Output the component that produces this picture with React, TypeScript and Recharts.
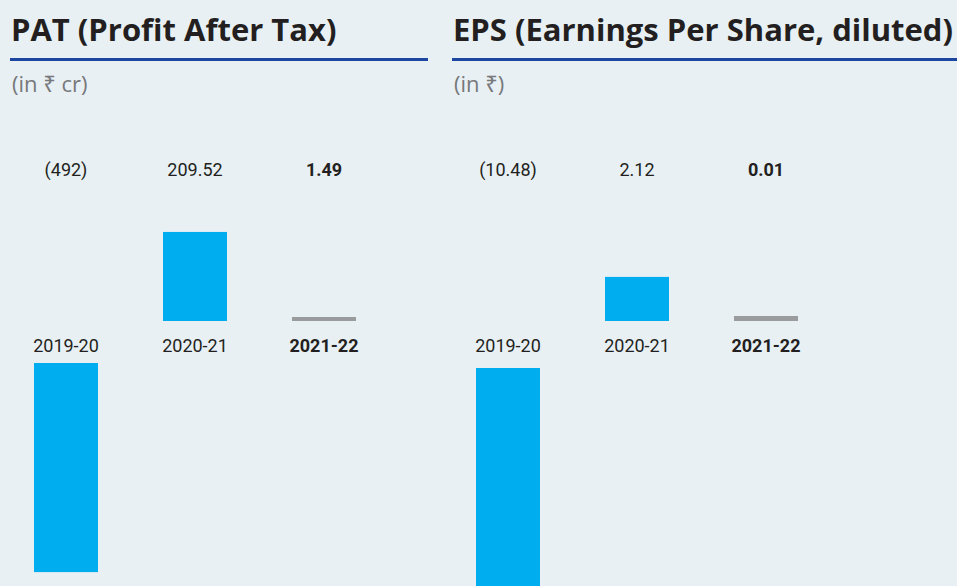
import { BarChart, Bar, XAxis, YAxis, Cell, LabelList } from 'recharts'

const years = ['2019-20', '2020-21', '2021-22']
const patValues = [-492, 209.52, 1.49]
const epsValues = [-10.48, 2.12, 0.01]

const BLUE = '#00aeef'
const GREY = '#9a9b9d'
const INK = '#231f20'
const RULE = '#1d46a0'
const SUB = '#77787b'
const BG = '#e8f0f4'

const H = 586
const ZERO_Y = 321
const VALUE_Y = 169
const TICK_Y = 345
const NUM_FONT = "Roboto, 'Noto Sans', sans-serif"
const HEAD_FONT = "'Open Sans', 'Noto Sans', 'DejaVu Sans', sans-serif"

function fmt(v: number) {
  return v < 0 ? `(${Math.abs(v)})` : String(v)
}

// negative bars are pushed down below the category labels
const makeShape = (gap: number) => (props: any) => {
  const { x, y, width, height, fill, payload } = props
  let top = Math.min(y, y + height)
  const h = Math.abs(height)
  if (payload.value < 0) top += gap
  return <rect x={x} y={top} width={width} height={h} fill={fill} />
}

const ValueLabel = (props: any) => {
  const { x, width, value, index } = props
  return (
    <text
      x={x + width / 2}
      y={VALUE_Y}
      textAnchor="middle"
      dominantBaseline="central"
      fontFamily={NUM_FONT}
      fontSize={18}
      fontWeight={index === years.length - 1 ? 700 : 400}
      fill={INK}
    >
      {fmt(value)}
    </text>
  )
}

const YearLabel = (props: any) => {
  const { x, width, value, index } = props
  return (
    <text
      x={x + width / 2}
      y={TICK_Y}
      textAnchor="middle"
      dominantBaseline="central"
      fontFamily={NUM_FONT}
      fontSize={18}
      fontWeight={index === years.length - 1 ? 700 : 400}
      fill={INK}
    >
      {value}
    </text>
  )
}

interface PanelProps {
  left: number
  ruleWidth: number
  title: string
  unit: string
  values: number[]
  domain: [number, number]
  pxPerUnit: number
  gap: number
  minSize: number
}

function Panel({ left, ruleWidth, title, unit, values, domain, pxPerUnit, gap, minSize }: PanelProps) {
  const data = years.map((year, i) => ({ year, value: values[i] }))
  const top = ZERO_Y - domain[1] * pxPerUnit
  const bottom = H - (ZERO_Y - domain[0] * pxPerUnit)

  return (
    <div style={{ position: 'absolute', left, top: 0, width: 957 - left, height: H }}>
      <div
        style={{
          position: 'absolute', left: 11, top: 14, fontFamily: HEAD_FONT, fontWeight: 700,
          fontSize: 31, lineHeight: '31px', color: INK, whiteSpace: 'nowrap',
        }}
      >
        {title}
      </div>
      <div style={{ position: 'absolute', left: 10, top: 58, width: ruleWidth, height: 3, background: RULE }} />
      <div
        style={{
          position: 'absolute', left: 12, top: 72, fontFamily: HEAD_FONT, fontWeight: 400,
          fontSize: 22, lineHeight: '22px', color: SUB, whiteSpace: 'nowrap',
        }}
      >
        {unit}
      </div>
      <div style={{ position: 'absolute', left: 0, top: 0 }}>
        <BarChart
          width={388}
          height={H}
          data={data}
          margin={{ top, bottom, left: 1, right: 0 }}
        >
          <XAxis dataKey="year" hide />
          <YAxis type="number" domain={domain} hide />
          <Bar
            dataKey="value"
            barSize={64}
            minPointSize={minSize}
            shape={makeShape(gap)}
            isAnimationActive={false}
          >
            {data.map((d, i) => (
              <Cell key={d.year} fill={i === years.length - 1 ? GREY : BLUE} />
            ))}
            <LabelList dataKey="value" content={<ValueLabel />} />
            <LabelList dataKey="year" content={<YearLabel />} />
          </Bar>
        </BarChart>
      </div>
    </div>
  )
}

export default function App() {
  return (
    <div style={{ position: 'relative', width: 957, height: H, background: BG, overflow: 'hidden' }}>
      <style>{'body{margin:0}'}</style>
      <Panel
        left={0}
        ruleWidth={418}
        title="PAT (Profit After Tax)"
        unit="(in ₹ cr)"
        values={patValues}
        domain={[-600, 400]}
        pxPerUnit={0.425}
        gap={42}
        minSize={4}
      />
      <Panel
        left={442}
        ruleWidth={515}
        title="EPS (Earnings Per Share, diluted)"
        unit="(in ₹)"
        values={epsValues}
        domain={[-12, 8]}
        pxPerUnit={20.8}
        gap={47}
        minSize={5}
      />
    </div>
  )
}
